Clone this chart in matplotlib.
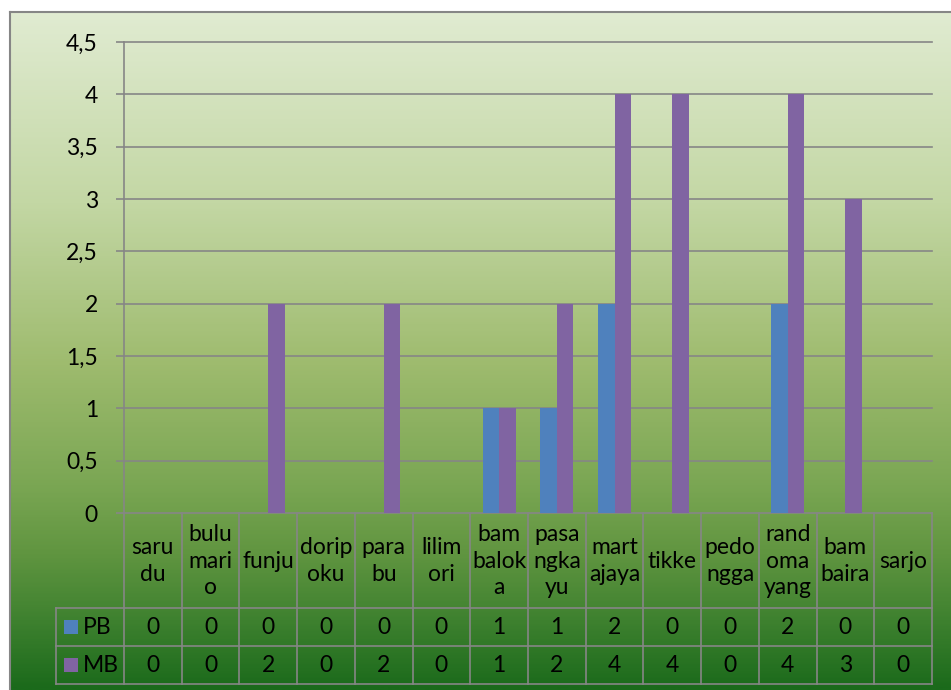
import numpy as np
import matplotlib
matplotlib.use("Agg")
import matplotlib.pyplot as plt
from matplotlib.colors import LinearSegmentedColormap
from matplotlib.lines import Line2D
from matplotlib.patches import Rectangle
from matplotlib.ticker import FuncFormatter, MultipleLocator
from matplotlib.transforms import blended_transform_factory

# data
names = ["saru\ndu", "bulu\nmari\no", "funju", "dorip\noku", "para\nbu", "lilim\nori",
         "bam\nbalok\na", "pasa\nngka\nyu", "mart\najaya", "tikke", "pedo\nngga",
         "rand\noma\nyang", "bam\nbaira", "sarjo"]
pb = [0, 0, 0, 0, 0, 0, 1, 1, 2, 0, 0, 2, 0, 0]
mb = [0, 0, 2, 0, 2, 0, 1, 2, 4, 4, 0, 4, 3, 0]
series = ["PB", "MB"]

blue = "#4F81BD"
purple = "#8064A2"
gray = "#868686"
font = "Lato"
fs = 16.5

W, H = 951, 690
fig = plt.figure(figsize=(W / 100, H / 100), dpi=100)
fig.patch.set_facecolor("white")

def fx(px):
    return px / W

def fy(py):
    return 1 - py / H

# green gradient background of the chart area
bg = fig.add_axes([fx(10), 0, 1 - fx(10), fy(12)], zorder=0)
bg.axis("off")
greens = LinearSegmentedColormap.from_list("greens", [
    (0.00, "#E0EBD1"),
    (0.28, "#C3D7A4"),
    (0.52, "#9EBB6E"),
    (0.70, "#7AA653"),
    (0.80, "#609540"),
    (0.90, "#3E812F"),
    (1.00, "#1B6A1B"),
])
bg.imshow(np.linspace(0, 1, 400).reshape(-1, 1), cmap=greens, aspect="auto",
          extent=[0, 1, 0, 1])
fig.add_artist(Line2D([fx(10), fx(10)], [0, fy(12)], color=gray, lw=1.5))
fig.add_artist(Line2D([fx(10), 1], [fy(12), fy(12)], color=gray, lw=1.5))

# plot area
ax = fig.add_axes([fx(124), fy(513), fx(932) - fx(124), fy(42) - fy(513)], zorder=2)
ax.set_facecolor("none")
x = np.arange(len(names))
bw = 0.286
ax.bar(x - bw / 2, pb, width=bw, color=blue, zorder=3)
ax.bar(x + bw / 2, mb, width=bw, color=purple, zorder=3)
ax.set_xlim(-0.5, len(names) - 0.5)
ax.set_ylim(0, 4.5)
ax.yaxis.set_major_locator(MultipleLocator(0.5))
ax.yaxis.set_major_formatter(FuncFormatter(lambda v, p: f"{v:g}".replace(".", ",")))
ax.grid(axis="y", color=gray, lw=1.2)
for g in ax.get_ygridlines():
    g.set_clip_on(False)
ax.set_axisbelow(True)
for s in ["top", "right", "bottom"]:
    ax.spines[s].set_visible(False)
ax.spines["left"].set_color(gray)
ax.spines["left"].set_linewidth(1.2)
ax.set_xticks([])
ax.tick_params(axis="y", length=5.8, width=1.2, color=gray, pad=13,
               labelsize=fs)
for t in ax.get_yticklabels():
    t.set_fontfamily(font)

# data table under the plot
tr = blended_transform_factory(ax.transData, fig.transFigure)
top, row1, row2, bottom = fy(513), fy(608), fy(646), fy(684)
for k in range(len(names) + 1):
    fig.add_artist(Line2D([k - 0.5, k - 0.5], [bottom, top], color=gray, lw=1.2,
                          transform=tr, zorder=4))
for yy in [row1, row2, bottom]:
    fig.add_artist(Line2D([fx(56), fx(932)], [yy, yy], color=gray, lw=1.2, zorder=4))
fig.add_artist(Line2D([fx(56), fx(56)], [bottom, row1], color=gray, lw=1.2, zorder=4))

for i, name in enumerate(names):
    fig.text(i, fy(561), name, transform=tr, ha="center", va="center",
             fontsize=fs, family=font, linespacing=1.3, zorder=5)
    fig.text(i, (row1 + row2) / 2, str(pb[i]), transform=tr, ha="center",
             va="center", fontsize=fs, family=font, zorder=5)
    fig.text(i, (row2 + bottom) / 2, str(mb[i]), transform=tr, ha="center",
             va="center", fontsize=fs, family=font, zorder=5)

for label, col, yc in [(series[0], blue, (row1 + row2) / 2),
                       (series[1], purple, (row2 + bottom) / 2)]:
    fig.add_artist(Rectangle((fx(64), yc - 7 / H), 14 / W, 14 / H,
                             facecolor=col, edgecolor="none", zorder=5))
    fig.text(fx(83), yc, label, ha="left", va="center", fontsize=fs,
             family=font, zorder=5)

fig.savefig("out.png", dpi=100)
